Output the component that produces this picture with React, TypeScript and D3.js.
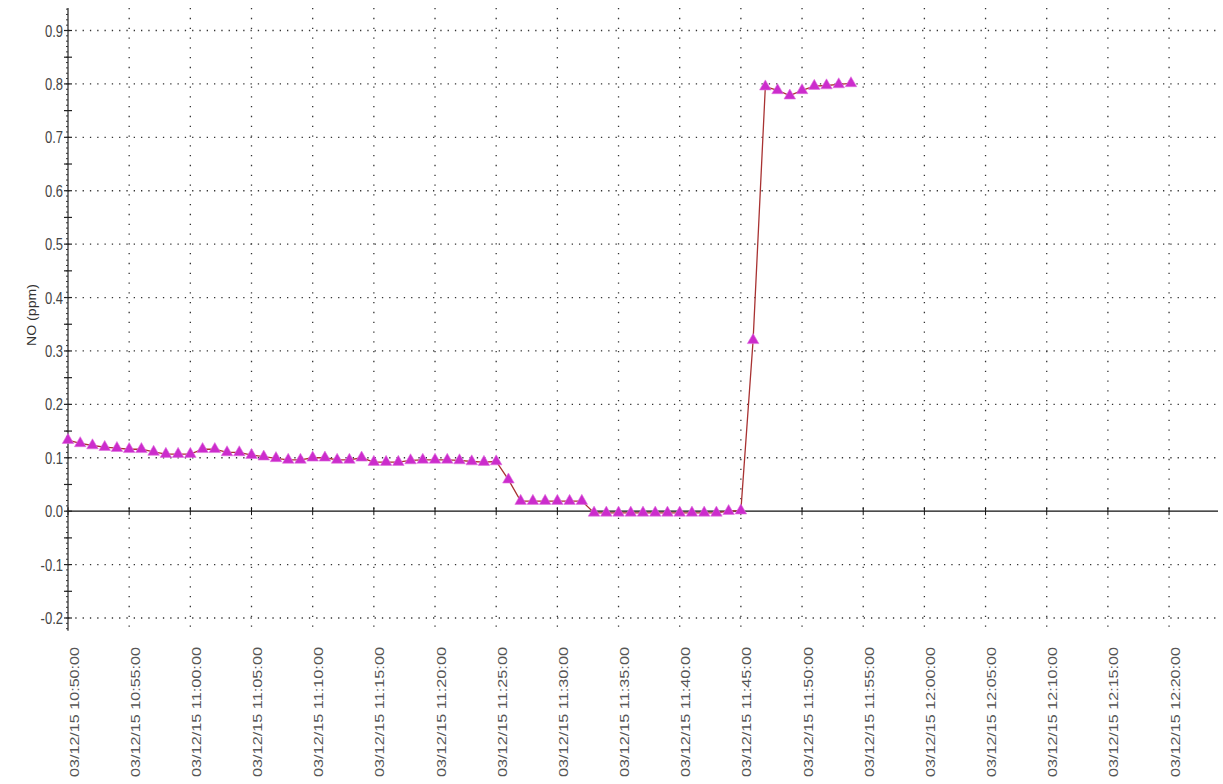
import React from "react";
import * as d3 from "d3";

// minutes after 03/12/15 10:50:00, one sample per minute
const minutes: number[] = Array.from({ length: 65 }, (_, i) => i);
const noValues: number[] = [
  0.133, 0.127, 0.123, 0.12, 0.118, 0.116, 0.116, 0.111, 0.107, 0.107,
  0.107, 0.116, 0.116, 0.11, 0.11, 0.105, 0.102, 0.099, 0.096, 0.096,
  0.1, 0.1, 0.096, 0.096, 0.1, 0.092, 0.092, 0.092, 0.095, 0.096,
  0.096, 0.096, 0.095, 0.093, 0.092, 0.093, 0.059, 0.019, 0.019, 0.019,
  0.019, 0.019, 0.019, -0.003, -0.003, -0.003, -0.003, -0.003, -0.003, -0.003,
  -0.003, -0.003, -0.003, -0.003, 0.0, 0.001, 0.32, 0.795, 0.788, 0.778,
  0.788, 0.796, 0.797, 0.799, 0.801,
];

const xTickMinutes: number[] = [0, 5, 10, 15, 20, 25, 30, 35, 40, 45, 50, 55, 60, 65, 70, 75, 80, 85, 90];
const xTickLabels: string[] = [
  "03/12/15 10:50:00", "03/12/15 10:55:00", "03/12/15 11:00:00", "03/12/15 11:05:00",
  "03/12/15 11:10:00", "03/12/15 11:15:00", "03/12/15 11:20:00", "03/12/15 11:25:00",
  "03/12/15 11:30:00", "03/12/15 11:35:00", "03/12/15 11:40:00", "03/12/15 11:45:00",
  "03/12/15 11:50:00", "03/12/15 11:55:00", "03/12/15 12:00:00", "03/12/15 12:05:00",
  "03/12/15 12:10:00", "03/12/15 12:15:00", "03/12/15 12:20:00",
];
const yTicks: number[] = [-0.2, -0.1, 0.0, 0.1, 0.2, 0.3, 0.4, 0.5, 0.6, 0.7, 0.8, 0.9];
const yTickLabels: string[] = ["-0.2", "-0.1", "0.0", "0.1", "0.2", "0.3", "0.4", "0.5", "0.6", "0.7", "0.8", "0.9"];
const yLabel = "NO (ppm)";

export default function App() {
  const W = 1223;
  const H = 784;
  const x = d3.scaleLinear().domain([0, 94]).range([68, 1218]);
  const y = d3.scaleLinear().domain([-0.2, 0.9]).range([618, 30.5]);
  const yTop = y(0.942);
  const yBot = y(-0.224);

  const line = d3
    .line<number>()
    .x((_, i) => x(minutes[i]))
    .y((d) => y(d));

  const tri = d3.symbol().type(d3.symbolTriangle).size(58)() as string;

  const minor: number[] = d3.range(-22, 95).map((v) => v / 100);
  const mids: number[] = d3.range(-0.15, 0.95, 0.1).map((v) => Math.round(v * 100) / 100);

  const font = "'Liberation Sans', Arial, sans-serif";

  return (
    <svg
      width={W}
      height={H}
      style={{ position: "absolute", left: 0, top: 0, background: "#fff" }}
    >
      {/* horizontal grid */}
      {yTicks
        .filter((t) => t !== 0)
        .map((t) => (
          <line
            key={"hg" + t}
            x1={x(0)}
            x2={1218}
            y1={y(t)}
            y2={y(t)}
            stroke="#333"
            strokeWidth={1.3}
            strokeDasharray="1.3,6"
          />
        ))}
      {/* vertical grid */}
      {xTickMinutes
        .filter((m) => m !== 0)
        .map((m) => (
          <line
            key={"vg" + m}
            x1={x(m)}
            x2={x(m)}
            y1={yTop}
            y2={yBot + 2}
            stroke="#333"
            strokeWidth={1.3}
            strokeDasharray="1.3,8.5"
          />
        ))}
      {/* zero line */}
      <line x1={x(0)} x2={1218} y1={y(0)} y2={y(0)} stroke="#111" strokeWidth={1.2} />
      {xTickMinutes.map((m) => (
        <line key={"xt" + m} x1={x(m)} x2={x(m)} y1={y(0) - 4} y2={y(0) + 4} stroke="#111" strokeWidth={1} />
      ))}
      {/* y axis */}
      <line x1={x(0)} x2={x(0)} y1={yTop} y2={yBot} stroke="#222" strokeWidth={1.2} />
      {minor.map((v) => (
        <line key={"mn" + v} x1={x(0) - 2} x2={x(0)} y1={y(v)} y2={y(v)} stroke="#333" strokeWidth={1} />
      ))}
      {mids.map((v) => (
        <line key={"md" + v} x1={x(0) - 4} x2={x(0) + 4} y1={y(v)} y2={y(v)} stroke="#222" strokeWidth={1.2} />
      ))}
      {yTicks.map((t, i) => (
        <g key={"yt" + t}>
          <line x1={x(0) - 4} x2={x(0) + 4} y1={y(t)} y2={y(t)} stroke="#222" strokeWidth={1.2} />
          <text
            x={x(0) - 5}
            y={y(t)}
            dy="0.36em"
            textAnchor="end"
            fontFamily={font}
            fontSize={13}
            fill="#444"
            transform={`translate(0,${y(t)}) scale(1,1.3) translate(0,${-y(t)})`}
          >
            {yTickLabels[i]}
          </text>
        </g>
      ))}
      {/* y label */}
      <text
        transform={`translate(36,315) rotate(-90)`}
        textAnchor="middle"
        fontFamily={font}
        fontSize={12}
        fill="#333"
        textLength={62}
        lengthAdjust="spacingAndGlyphs"
      >
        {yLabel}
      </text>
      {/* x labels */}
      {xTickMinutes.map((m, i) => (
        <text
          key={"xl" + m}
          transform={`translate(${x(m) + 10.5},647) rotate(-90)`}
          textAnchor="end"
          fontFamily={font}
          fontSize={12.5}
          fill="#555"
          textLength={130}
          lengthAdjust="spacingAndGlyphs"
        >
          {xTickLabels[i]}
        </text>
      ))}
      {/* data line */}
      <path d={line(noValues) || ""} fill="none" stroke="#a83232" strokeWidth={1.3} />
      {noValues.map((v, i) => (
        <path
          key={"p" + i}
          d={tri}
          transform={`translate(${x(minutes[i])},${y(v)})`}
          fill="#cc2ccc"
          stroke="#e070e0"
          strokeWidth={0.6}
        />
      ))}
    </svg>
  );
}
